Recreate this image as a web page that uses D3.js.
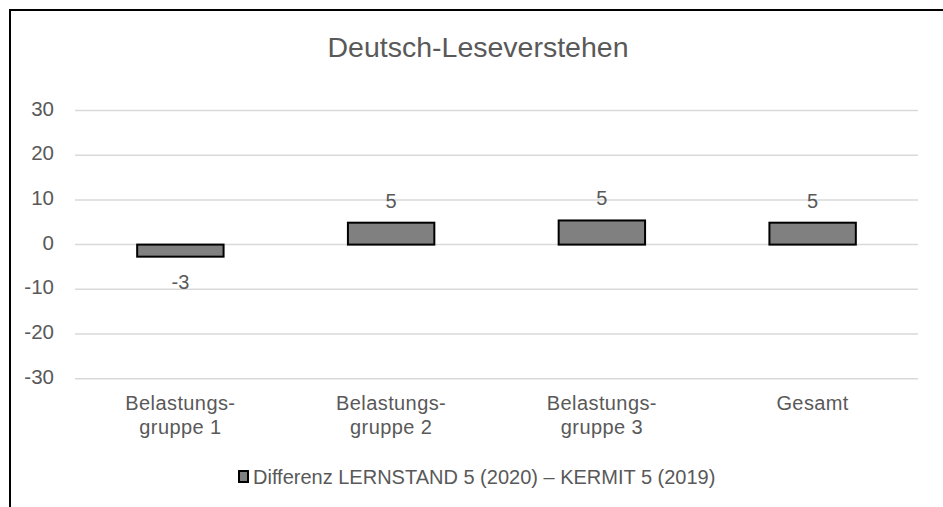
<!DOCTYPE html>
<html>
<head>
<meta charset="utf-8">
<script src="https://cdn.jsdelivr.net/npm/d3@7"></script>
<style>
  html, body { margin: 0; padding: 0; background: #fff; }
  svg { display: block; font-family: "Liberation Sans", Arial, sans-serif; }
</style>
</head>
<body>
<div id="chart"></div>
<script>
const categories = [["Belastungs-", "gruppe 1"], ["Belastungs-", "gruppe 2"], ["Belastungs-", "gruppe 3"], ["Gesamt"]];
const values = [-2.7, 4.9, 5.4, 4.9];
const valueLabels = ["-3", "5", "5", "5"];
const yTicks = [-30, -20, -10, 0, 10, 20, 30];
const title = "Deutsch-Leseverstehen";
const seriesName = "Differenz LERNSTAND 5 (2020) \u2013 KERMIT 5 (2019)";

const width = 943, height = 507;
const textColor = "#595959";

const svg = d3.select("#chart").append("svg")
  .attr("width", width)
  .attr("height", height);

// frame (only top and left edges visible in the crop)
svg.append("path")
  .attr("d", `M10,${height}V10H${width}`)
  .attr("fill", "none")
  .attr("stroke", "#000")
  .attr("stroke-width", 2);

const x = d3.scaleBand()
  .domain(d3.range(categories.length))
  .range([75, 918])
  .paddingInner(0.59)
  .paddingOuter(0.295);

const y = d3.scaleLinear()
  .domain([-30, 30])
  .range([378.7, 110.5]);

svg.append("text")
  .attr("x", 478)
  .attr("y", 57)
  .attr("text-anchor", "middle")
  .attr("fill", textColor)
  .attr("font-size", 28.5)
  .text(title);

// gridlines
svg.append("g")
  .selectAll("line")
  .data(yTicks)
  .join("line")
  .attr("x1", 75)
  .attr("x2", 918)
  .attr("y1", d => y(d))
  .attr("y2", d => y(d))
  .attr("stroke", "#d9d9d9")
  .attr("stroke-width", 1.5);

// y tick labels
svg.append("g")
  .selectAll("text")
  .data(yTicks)
  .join("text")
  .attr("x", 54)
  .attr("y", d => y(d) + 5)
  .attr("text-anchor", "end")
  .attr("fill", textColor)
  .attr("font-size", 20.5)
  .text(d => d);

// bars
svg.append("g")
  .selectAll("rect")
  .data(values)
  .join("rect")
  .attr("x", (d, i) => x(i))
  .attr("width", x.bandwidth())
  .attr("y", d => y(Math.max(0, d)))
  .attr("height", d => Math.abs(y(d) - y(0)))
  .attr("fill", "#808080")
  .attr("stroke", "#000")
  .attr("stroke-width", 2);

// value labels
svg.append("g")
  .selectAll("text")
  .data(values)
  .join("text")
  .attr("x", (d, i) => x(i) + x.bandwidth() / 2)
  .attr("y", d => d >= 0 ? y(d) - 15 : y(d) + 32)
  .attr("text-anchor", "middle")
  .attr("fill", textColor)
  .attr("font-size", 20)
  .text((d, i) => valueLabels[i]);

// category labels
const cat = svg.append("g")
  .selectAll("text")
  .data(categories)
  .join("text")
  .attr("x", (d, i) => x(i) + x.bandwidth() / 2)
  .attr("y", 410)
  .attr("text-anchor", "middle")
  .attr("fill", textColor)
  .attr("font-size", 20)
  .attr("letter-spacing", 0.4);

cat.selectAll("tspan")
  .data(d => d)
  .join("tspan")
  .attr("x", function() { return this.parentNode.getAttribute("x"); })
  .attr("dy", (d, i) => i === 0 ? 0 : 23.5)
  .text(d => d);

// legend
const legend = svg.append("g").attr("transform", "translate(238,484)");
legend.append("rect")
  .attr("x", 1)
  .attr("y", -13)
  .attr("width", 9)
  .attr("height", 11)
  .attr("fill", "#808080")
  .attr("stroke", "#000")
  .attr("stroke-width", 2);
legend.append("text")
  .attr("x", 15)
  .attr("fill", textColor)
  .attr("font-size", 20)
  .text(seriesName);
</script>
</body>
</html>
